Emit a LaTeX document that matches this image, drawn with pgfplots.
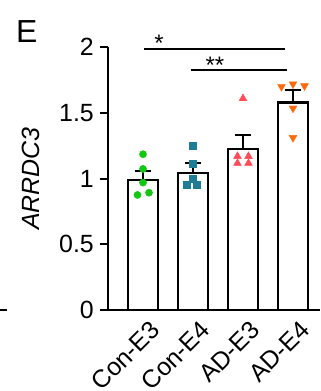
\documentclass[border=0pt]{standalone}
\usepackage{fontspec}
\setmainfont{Liberation Sans}
\usepackage{pgfplots}
\pgfplotsset{compat=1.18}
\definecolor{cgreen}{RGB}{16,200,16}
\definecolor{cteal}{RGB}{30,125,150}
\definecolor{cred}{RGB}{255,75,85}
\definecolor{corange}{RGB}{255,105,10}
\newcommand{\bigf}{\fontsize{25}{30}\selectfont}
\begin{document}
\begin{tikzpicture}[x=1bp,y=1bp]
\useasboundingbox (0,0) rectangle (321,391);
\node[anchor=north west,inner sep=0pt,font=\fontsize{32}{38}\selectfont] at (16,371) {E};
\draw[line width=2bp] (0,81) -- (7,81);
\begin{axis}[
  at={(108bp,81bp)}, anchor=south west,
  scale only axis, width=212bp, height=262.7bp,
  xmin=-0.7, xmax=3.54, ymin=0, ymax=2,
  axis lines=left, axis line style={-, line width=2bp},
  x axis line style={shorten <=-8bp},
  clip=false,
  xtick={0,1,2,3}, xticklabels={Con-E3,Con-E4,AD-E3,AD-E4},
  major x tick style={draw=none},
  xticklabel style={xshift=6bp, yshift=0bp, rotate=45, anchor=north east, font=\bigf, inner sep=1bp},
  ytick={0,0.5,1,1.5,2}, yticklabels={0,0.5,1,1.5,2},
  tick align=outside, major tick length=8bp,
  major y tick style={line width=2bp, black},
  yticklabel style={font=\bigf, inner sep=0pt, xshift=-6bp},
  /pgf/number format/assume math mode=true,
  ylabel={\textit{ARRDC3}},
  ylabel style={font=\bigf, at={(axis description cs:-0.363,0.5)}, anchor=center},
]
\addplot[ybar, bar width=0.6, fill=white, draw=black, line width=2.2bp,
  error bars/.cd, y dir=plus, y explicit,
  error bar style={line width=2.2bp, black},
  error mark options={rotate=90, mark size=8bp, line width=2.2bp, black}]
  coordinates {(0,0.99) +- (0,0.069) (1,1.046) +- (0,0.071) (2,1.226) +- (0,0.107) (3,1.579) +- (0,0.096)};
\addplot[only marks, mark=*, mark size=3.6bp, color=cgreen]
  coordinates {(0,1.186) (0,1.074) (0,0.97) (-0.11,0.876) (0.12,0.893)};
\addplot[only marks, mark=square*, mark size=3.5bp, color=cteal]
  coordinates {(1,1.249) (1,1.117) (1,1.003) (0.88,0.952) (1.08,0.952)};
\addplot[only marks, mark=triangle*, mark size=4.5bp, color=cred]
  coordinates {(1.89,1.17) (1.89,1.117) (2.11,1.17) (2.11,1.117) (2.0,1.61)};
\addplot[only marks, mark=triangle*, mark options={rotate=180}, mark size=4.5bp, color=corange]
  coordinates {(2.77,1.70) (3.0,1.72) (3.23,1.706) (3.0,1.536) (3.0,1.312)};
\draw[line width=2.2bp] (axis cs:0.02,1.99) -- (axis cs:2.84,1.99);
\draw[line width=2.2bp] (axis cs:0.95,1.826) -- (axis cs:2.87,1.826);
\node[font=\fontsize{24}{28}\selectfont, inner sep=0pt] at (axis cs:0.32,2.03) {*};
\node[font=\fontsize{24}{28}\selectfont, inner sep=0pt] at (axis cs:1.44,1.865) {**};
\end{axis}
\end{tikzpicture}
\end{document}
